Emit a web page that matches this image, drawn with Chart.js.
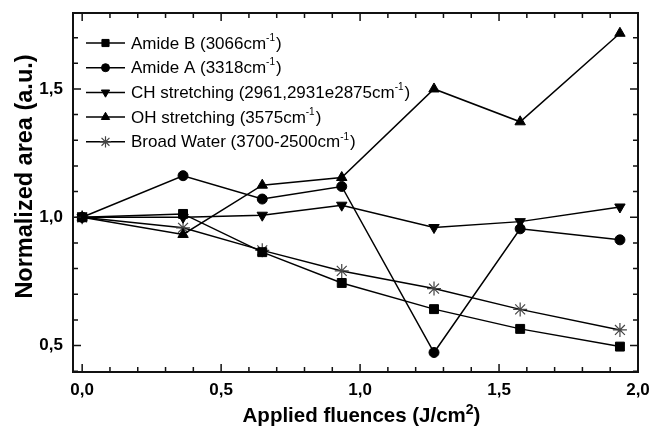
<!DOCTYPE html>
<html>
<head>
<meta charset="utf-8">
<script src="https://cdn.jsdelivr.net/npm/chart.js@4/dist/chart.umd.min.js"></script>
<style>
  html, body { margin: 0; padding: 0; background: #fff; }
  #wrap { width: 650px; height: 427px; }
</style>
</head>
<body>
<div id="wrap"><canvas id="chart" width="650" height="427"></canvas></div>
<script>
// values
const fluence = [0, 0.363, 0.648, 0.934, 1.266, 1.576, 1.935];
const amideB = [1.0, 1.013, 0.864, 0.744, 0.642, 0.565, 0.496];
const amideA = [1.0, 1.162, 1.071, 1.12, 0.473, 0.955, 0.912];
const chStretching = [1.0, 1.0, 1.008, 1.047, 0.96, 0.983, 1.04];
const ohStretching = [1.0, 0.933, 1.125, 1.155, 1.50, 1.372, 1.717];
const broadWater = [1.0, 0.959, 0.871, 0.791, 0.722, 0.641, 0.561];

const seriesLabels = [
    'Amide B (3066cm⁻¹)',
    'Amide A (3318cm⁻¹)',
    'CH stretching (2961,2931e2875cm⁻¹)',
    'OH stretching (3575cm⁻¹)',
    'Broad Water (3700-2500cm⁻¹)'
];
const xTicks = [0, 0.5, 1.0, 1.5, 2.0];
const yTicks = [0.5, 1.0, 1.5];
const xTitle = ['Applied fluences (J/cm', '2', ')'];
const yTitle = 'Normalized area (a.u.)';

const FONT = '"Liberation Sans", Arial, Helvetica, sans-serif';

const toPoints = (ys) => fluence.map((x, i) => ({ x: x, y: ys[i] }));

const makeSet = (label, ys, style, radius, rotation, color) => ({
    label: label,
    data: toPoints(ys),
    borderColor: '#000',
    borderWidth: 1.5,
    pointStyle: style,
    pointRadius: radius,
    pointHoverRadius: radius,
    pointRotation: rotation,
    pointBackgroundColor: color,
    pointBorderColor: color,
    pointBorderWidth: style === 'star' ? 1.2 : 1,
    tension: 0,
    fill: false
});

const datasets = [
    makeSet(seriesLabels[0], amideB, 'rect', 6.3, 0, '#000'),
    makeSet(seriesLabels[1], amideA, 'circle', 5, 0, '#000'),
    makeSet(seriesLabels[2], chStretching, 'triangle', 6, 180, '#000'),
    makeSet(seriesLabels[3], ohStretching, 'triangle', 6, 0, '#000'),
    makeSet(seriesLabels[4], broadWater, 'star', 7, 0, '#444')
];

const comma = (v) => v.toFixed(1).replace('.', ',');

// frame + inward ticks on all four sides
const frameTicks = {
    id: 'frameTicks',
    afterDraw(chart) {
        const { ctx, chartArea: a, scales } = chart;
        const xs = scales.x, ys = scales.y;
        ctx.save();
        ctx.strokeStyle = '#111';
        ctx.lineWidth = 1.5;
        for (let i = 0; i <= 20; i++) {
            const px = xs.getPixelForValue(i / 10);
            const len = i % 5 === 0 ? 8 : 5;
            ctx.beginPath();
            ctx.moveTo(px, a.bottom); ctx.lineTo(px, a.bottom - len);
            ctx.moveTo(px, a.top); ctx.lineTo(px, a.top + len);
            ctx.stroke();
        }
        for (let i = 4; i <= 17; i++) {
            const py = ys.getPixelForValue(i / 10);
            const len = i % 5 === 0 ? 8 : 5;
            ctx.beginPath();
            ctx.moveTo(a.left, py); ctx.lineTo(a.left + len, py);
            ctx.moveTo(a.right, py); ctx.lineTo(a.right - len, py);
            ctx.stroke();
        }
        ctx.lineWidth = 2;
        ctx.strokeRect(a.left, a.top, a.right - a.left, a.bottom - a.top);
        ctx.restore();
    }
};

// axis titles (drawn by hand for the superscript)
const axisTitles = {
    id: 'axisTitles',
    afterDraw(chart) {
        const { ctx } = chart;
        ctx.save();
        ctx.fillStyle = '#000';
        ctx.textBaseline = 'alphabetic';

        const big = 'bold 20.5px ' + FONT, small = 'bold 14px ' + FONT;
        ctx.font = big;
        const w0 = ctx.measureText(xTitle[0]).width;
        const w2 = ctx.measureText(xTitle[2]).width;
        ctx.font = small;
        const w1 = ctx.measureText(xTitle[1]).width;
        let x = 361.5 - (w0 + w1 + w2) / 2;
        ctx.textAlign = 'left';
        ctx.font = big;
        ctx.fillText(xTitle[0], x, 421.5);
        x += w0;
        ctx.font = small;
        ctx.fillText(xTitle[1], x, 414);
        x += w1;
        ctx.font = big;
        ctx.fillText(xTitle[2], x, 421.5);

        ctx.translate(32, 176.5);
        ctx.rotate(-Math.PI / 2);
        ctx.textAlign = 'center';
        ctx.font = 'bold 23.5px ' + FONT;
        ctx.fillText(yTitle, 0, 0);
        ctx.restore();
    }
};

// legend with line-marker-line samples and superscript units
const lineLegend = {
    id: 'lineLegend',
    afterDraw(chart) {
        const { ctx, chartArea: a } = chart;
        ctx.save();
        chart.data.datasets.forEach((ds, i) => {
            const y = a.top + 30 + i * 24.7;
            const x0 = a.left + 13, x1 = a.left + 52, xm = (x0 + x1) / 2;
            ctx.strokeStyle = '#000';
            ctx.lineWidth = 1.5;
            ctx.beginPath();
            ctx.moveTo(x0, y); ctx.lineTo(x1, y);
            ctx.stroke();
            ctx.fillStyle = ds.pointBackgroundColor;
            ctx.strokeStyle = ds.pointBorderColor;
            ctx.lineWidth = ds.pointBorderWidth;
            Chart.helpers.drawPoint(ctx, {
                pointStyle: ds.pointStyle,
                rotation: ds.pointRotation,
                radius: ds.pointRadius * 0.8,
                borderWidth: ds.pointBorderWidth
            }, xm, y);

            const parts = ds.label.split('⁻¹');
            let x = a.left + 58;
            ctx.fillStyle = '#000';
            ctx.textBaseline = 'middle';
            ctx.font = '17px ' + FONT;
            ctx.fillText(parts[0], x, y + 1);
            x += ctx.measureText(parts[0]).width;
            if (parts.length > 1) {
                ctx.font = '10px ' + FONT;
                ctx.fillText('-1', x, y - 5);
                x += ctx.measureText('-1').width + 1;
                ctx.font = '17px ' + FONT;
                ctx.fillText(parts[1], x, y + 1);
            }
        });
        ctx.restore();
    }
};

new Chart(document.getElementById('chart').getContext('2d'), {
    type: 'line',
    data: { datasets: datasets },
    options: {
        responsive: false,
        animation: false,
        events: [],
        layout: { padding: { top: 13, right: 12, left: 0, bottom: 0 } },
        plugins: {
            legend: { display: false },
            tooltip: { enabled: false }
        },
        scales: {
            x: {
                type: 'linear',
                min: -0.033,
                max: 2.0,
                grid: { display: false },
                border: { display: false },
                afterBuildTicks: (s) => { s.ticks = xTicks.map(v => ({ value: v })); },
                afterFit: (s) => { s.height = 55; s.paddingLeft = 0; s.paddingRight = 0; },
                ticks: {
                    padding: 0,
                    maxRotation: 0,
                    color: '#000',
                    font: { family: FONT, size: 17, weight: 'bold' },
                    callback: (v) => comma(v)
                }
            },
            y: {
                type: 'linear',
                min: 0.397,
                max: 1.796,
                grid: { display: false },
                border: { display: false },
                afterBuildTicks: (s) => { s.ticks = yTicks.map(v => ({ value: v })); },
                afterFit: (s) => { s.width = 73; s.paddingTop = 0; s.paddingBottom = 0; },
                ticks: {
                    padding: 2,
                    color: '#000',
                    font: { family: FONT, size: 17, weight: 'bold' },
                    callback: (v) => comma(v)
                }
            }
        }
    },
    plugins: [frameTicks, axisTitles, lineLegend]
});
</script>
</body>
</html>
